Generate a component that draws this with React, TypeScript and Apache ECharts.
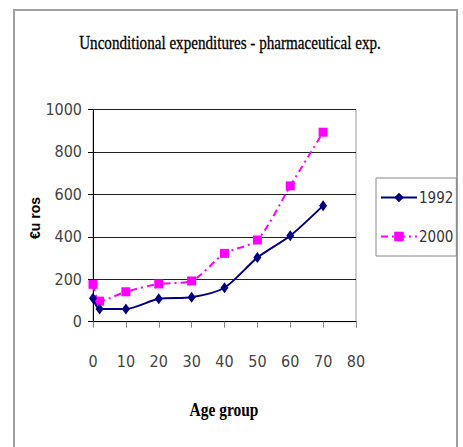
import React, { useEffect, useRef } from "react";
import * as echarts from "echarts";

const ages = [0, 2, 10, 20, 30, 40, 50, 60, 70];
const values1992 = [110, 60, 60, 108, 115, 160, 302, 405, 547];
const values2000 = [176, 97, 141, 178, 192, 322, 385, 640, 893];
const seriesNames = ["1992", "2000"];
const titleText = "Unconditional expenditures - pharmaceutical exp.";
const xAxisTitle = "Age group";
const yAxisTitle = "€u ros";

export default function App() {
  const ref = useRef<HTMLDivElement>(null);
  useEffect(() => {
    if (!ref.current) return;
    const chart = echarts.init(ref.current, undefined, { renderer: "svg" });
    const narrow = "'DejaVu Sans Condensed', 'Liberation Sans Narrow', sans-serif";
    chart.setOption({
      animation: false,
      backgroundColor: "#ffffff",
      graphic: [
        {
          type: "rect",
          shape: { x: 14, y: 10, width: 443, height: 460 },
          style: { fill: "none", stroke: "#a0a0a0", lineWidth: 2 },
          z: -1,
        },
        {
          type: "text",
          x: 230,
          y: 43,
          scaleX: 0.84,
          style: {
            text: titleText,
            fontFamily: "'Liberation Serif', serif",
            fontSize: 18,
            fill: "#000",
            stroke: "#000",
            lineWidth: 0.3,
            align: "center",
            verticalAlign: "middle",
          },
        },
        {
          type: "text",
          x: 35,
          y: 218,
          rotation: Math.PI / 2,
          style: {
            text: yAxisTitle,
            fontFamily: "'Liberation Sans', Arial, sans-serif",
            fontWeight: "bold",
            fontSize: 14,
            fill: "#000",
            align: "center",
            verticalAlign: "middle",
          },
        },
        {
          type: "text",
          x: 224,
          y: 410,
          scaleX: 0.86,
          style: {
            text: xAxisTitle,
            fontFamily: "'Liberation Serif', serif",
            fontWeight: "bold",
            fontSize: 18,
            fill: "#000",
            align: "center",
            verticalAlign: "middle",
          },
        },
      ],
      legend: {
        data: seriesNames,
        orient: "vertical",
        left: 376,
        top: 178,
        padding: [12, 3, 12, 4],
        itemGap: 24,
        itemWidth: 36,
        itemHeight: 12,
        borderColor: "#888",
        borderWidth: 1,
        textStyle: { fontFamily: narrow, fontSize: 15, color: "#333", padding: [0, 0, 0, -3] },
      },
      grid: {
        left: 93,
        right: 107,
        top: 109.5,
        bottom: 125.3,
        show: true,
        borderColor: "#999",
        borderWidth: 1,
        containLabel: false,
      },
      xAxis: {
        type: "value",
        min: 0,
        max: 80,
        interval: 10,
        axisLine: { show: true, lineStyle: { color: "#000", width: 1 } },
        axisTick: { show: true, length: 6, lineStyle: { color: "#888" } },
        splitLine: { show: false },
        axisLabel: { margin: 32, fontFamily: narrow, fontSize: 16, color: "#444" },
      },
      yAxis: {
        type: "value",
        min: 0,
        max: 1000,
        interval: 200,
        axisLine: { show: true, lineStyle: { color: "#000", width: 1 } },
        axisTick: { show: true, length: 5, lineStyle: { color: "#000" } },
        splitLine: { show: true, lineStyle: { color: "#222", width: 1 } },
        axisLabel: {
          margin: 11,
          fontFamily: narrow,
          fontSize: 16,
          color: "#444",
          formatter: (v: number) => String(v),
        },
      },
      series: [
        {
          name: seriesNames[0],
          type: "line",
          data: ages.map((a, i) => [a, values1992[i]]),
          smooth: 0.25,
          symbol: "diamond",
          symbolSize: [8, 11],
          lineStyle: { color: "#000080", width: 2 },
          itemStyle: { color: "#000080" },
          z: 3,
        },
        {
          name: seriesNames[1],
          type: "line",
          data: ages.map((a, i) => [a, values2000[i]]),
          smooth: 0.25,
          symbol: "rect",
          symbolSize: 9,
          lineStyle: { color: "#ff00ff", width: 2, type: [7, 4, 2, 4] },
          itemStyle: { color: "#ff00ff" },
          z: 2,
        },
      ],
    });
    return () => chart.dispose();
  }, []);
  return (
    <div
      ref={ref}
      style={{ position: "fixed", left: 0, top: 0, width: 463, height: 447 }}
    />
  );
}
